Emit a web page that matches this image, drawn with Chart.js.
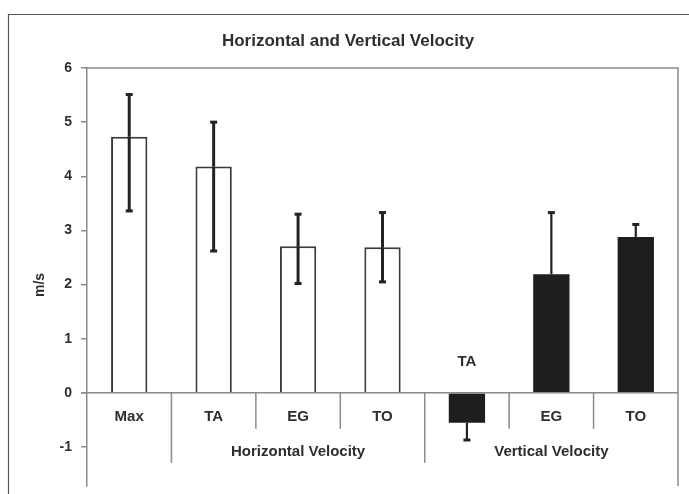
<!DOCTYPE html>
<html>
<head>
<meta charset="utf-8">
<script src="https://cdn.jsdelivr.net/npm/chart.js@4.4.1/dist/chart.umd.min.js"></script>
<style>
  html, body { margin: 0; padding: 0; background: #fff; overflow: hidden; }
  canvas { display: block; }
</style>
</head>
<body>
<canvas id="chart" width="689" height="494"></canvas>
<script>
// data
const categories = ['Max', 'TA', 'EG', 'TO', 'TA', 'EG', 'TO']
const groups = [
  { label: 'Horizontal Velocity', from: 1, to: 3 },
  { label: 'Vertical Velocity', from: 4, to: 6 }
]
const horizontal = [4.73, 4.18, 2.71, 2.69, null, null, null]
const vertical = [null, null, null, null, -0.55, 2.19, 2.88]
// error bar lengths above / below the bar value (0 = not drawn)
const errPlus = [0.78, 0.82, 0.59, 0.64, 0, 1.14, 0.23]
const errMinus = [1.37, 1.56, 0.69, 0.64, 0.32, 0, 0]
const yTicks = [-1, 0, 1, 2, 3, 4, 5, 6]

const FONT = '"Liberation Sans", Arial, sans-serif'
const TEXT = '#2e2e2e'
const AXIS = '#8a8a8a'

const decorPlugin = {
  id: 'decor',
  beforeDraw(chart) {
    const ctx = chart.ctx
    ctx.save()
    // outer frame (only top and left are in view)
    ctx.strokeStyle = '#555'
    ctx.lineWidth = 1.2
    ctx.beginPath()
    ctx.moveTo(8.5, 494)
    ctx.lineTo(8.5, 14.5)
    ctx.lineTo(689, 14.5)
    ctx.stroke()
    // title
    ctx.fillStyle = TEXT
    ctx.font = 'bold 17px ' + FONT
    ctx.textAlign = 'center'
    ctx.textBaseline = 'middle'
    ctx.fillText('Horizontal and Vertical Velocity', 348, 41)
    // y axis title
    ctx.font = 'bold 14px ' + FONT
    ctx.translate(40, 285)
    ctx.rotate(-Math.PI / 2)
    ctx.fillText('m/s', 0, 0)
    ctx.restore()
  },
  afterDatasetsDraw(chart) {
    const ctx = chart.ctx
    const x = chart.scales.x
    const y = chart.scales.y
    const area = chart.chartArea
    const y0 = y.getPixelForValue(0)
    const step = (area.right - area.left) / categories.length
    ctx.save()

    // plot border top / right
    ctx.strokeStyle = AXIS
    ctx.lineWidth = 1.5
    ctx.beginPath()
    ctx.moveTo(area.left, area.top)
    ctx.lineTo(area.right, area.top)
    ctx.lineTo(area.right, area.bottom)
    ctx.stroke()

    // zero line
    ctx.beginPath()
    ctx.moveTo(area.left - 6, y0)
    ctx.lineTo(area.right, y0)
    ctx.stroke()

    // category separators
    for (let i = 1; i < categories.length; i++) {
      const px = area.left + step * i
      const long = groups.some(g => g.from === i)
      ctx.beginPath()
      ctx.moveTo(px, y0)
      ctx.lineTo(px, y0 + (long ? 70 : 36))
      ctx.stroke()
    }

    // error bars
    categories.forEach((c, i) => {
      const v = horizontal[i] !== null ? horizontal[i] : vertical[i]
      const cx = x.getPixelForValue(i)
      const w = horizontal[i] !== null ? 3 : 2.2
      ctx.strokeStyle = '#222'
      const ends = []
      if (errPlus[i]) ends.push(v + errPlus[i])
      if (errMinus[i]) ends.push(v - errMinus[i])
      ends.forEach(e => {
        const pe = y.getPixelForValue(e)
        ctx.lineWidth = w
        ctx.beginPath()
        ctx.moveTo(cx, y.getPixelForValue(v))
        ctx.lineTo(cx, pe)
        ctx.stroke()
        ctx.lineWidth = 3
        ctx.beginPath()
        ctx.moveTo(cx - 3.5, pe)
        ctx.lineTo(cx + 3.5, pe)
        ctx.stroke()
      })
    })

    // category labels
    ctx.fillStyle = TEXT
    ctx.font = 'bold 15px ' + FONT
    ctx.textAlign = 'center'
    ctx.textBaseline = 'middle'
    categories.forEach((c, i) => {
      const cx = x.getPixelForValue(i)
      const v = horizontal[i] !== null ? horizontal[i] : vertical[i]
      const ly = v < 0 ? y0 - 31 : y0 + 24
      ctx.fillText(c, cx, ly)
    })
    groups.forEach(g => {
      const gx = (x.getPixelForValue(g.from) + x.getPixelForValue(g.to)) / 2
      ctx.fillText(g.label, gx, y0 + 59)
    })
    ctx.restore()
  }
}

new Chart(document.getElementById('chart'), {
  type: 'bar',
  data: {
    labels: categories,
    datasets: [
      {
        label: 'Horizontal Velocity',
        data: horizontal,
        backgroundColor: '#fff',
        borderColor: '#3a3a3a',
        borderWidth: 2,
        grouped: false
      },
      {
        label: 'Vertical Velocity',
        data: vertical,
        backgroundColor: '#1e1e1e',
        borderColor: '#1e1e1e',
        borderWidth: 0,
        grouped: false
      }
    ]
  },
  options: {
    responsive: false,
    animation: false,
    layout: { padding: { left: 0, top: 68, right: 11, bottom: 8 } },
    datasets: { bar: { categoryPercentage: 1, barPercentage: 0.43 } },
    plugins: {
      legend: { display: false },
      title: { display: false },
      tooltip: { enabled: false }
    },
    scales: {
      x: { display: false, offset: true },
      y: {
        min: -1.72,
        max: 6,
        afterFit(scale) {
          scale.width = 87
          scale.paddingTop = 0
          scale.paddingBottom = 0
        },
        afterBuildTicks(scale) { scale.ticks = yTicks.map(v => ({ value: v })) },
        border: { display: true, color: AXIS, width: 1.5 },
        grid: { drawOnChartArea: false, drawTicks: true, tickLength: 6, color: AXIS, lineWidth: 1.5 },
        ticks: {
          padding: 9,
          color: TEXT,
          font: { family: FONT, size: 14, weight: 'bold' }
        }
      }
    }
  },
  plugins: [decorPlugin]
})
</script>
</body>
</html>
